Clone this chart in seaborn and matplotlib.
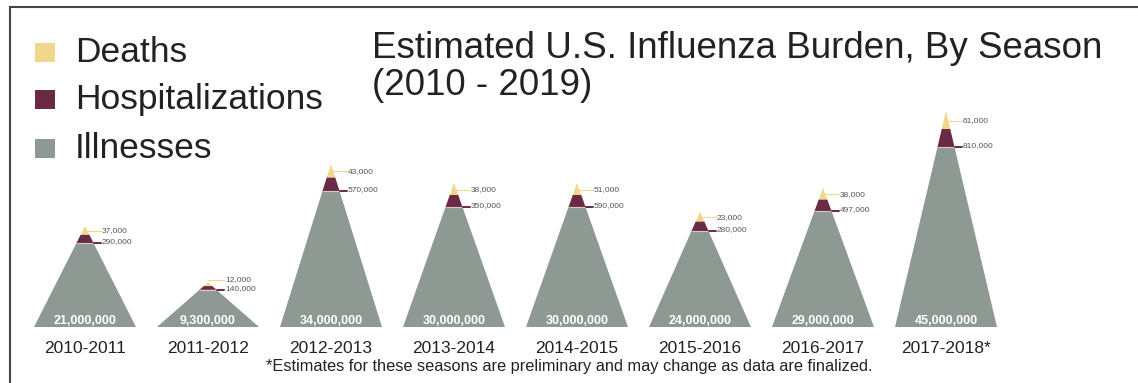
import numpy as np
import matplotlib
matplotlib.use('Agg')
import matplotlib.pyplot as plt
import seaborn as sns
from matplotlib.lines import Line2D
from matplotlib.patches import Rectangle

seasons = ['2010-2011', '2011-2012', '2012-2013', '2013-2014',
           '2014-2015', '2015-2016', '2016-2017', '2017-2018*']
illnesses = [21000000, 9300000, 34000000, 30000000, 30000000, 24000000, 29000000, 45000000]
hospitalizations = [290000, 140000, 570000, 350000, 590000, 280000, 497000, 810000]
deaths = [37000, 12000, 43000, 38000, 51000, 23000, 38000, 61000]

legend_labels = ['Deaths', 'Hospitalizations', 'Illnesses']
colors = {'Deaths': '#f0d78c', 'Hospitalizations': '#6b2a44', 'Illnesses': '#8e9994'}

sns.set_theme(style='white')
plt.rcParams['font.family'] = ['Liberation Sans', 'DejaVu Sans']

W, H = 1138, 383
fig = plt.figure(figsize=(W / 100, H / 100), dpi=100)
ax = fig.add_axes([0, 0, 1, 1])

# pixel layout -> data limits (x: season index, y: millions of illnesses)
step = 123
x0 = 85
base_px = 56
ppm = 4.0
ax.set_xlim(-x0 / step, (W - x0) / step)
ax.set_ylim(-base_px / ppm, (H - base_px) / ppm)
ax.axis('off')

hw = 51 / step
cap = 0.1  # cap height as a share of the illness pyramid
gap = 16 / step
min_sep = 9 / ppm

for i, season in enumerate(seasons):
    g = illnesses[i] / 1e6
    m = g * cap
    d = g * cap
    top = g + m + d

    def w(h):
        return hw * (1 - h / top)

    ax.fill([i - hw, i + hw, i + w(g), i - w(g)], [0, 0, g, g],
            color=colors['Illnesses'], lw=0)
    ax.fill([i - w(g), i + w(g), i + w(g + m), i - w(g + m)], [g, g, g + m, g + m],
            color=colors['Hospitalizations'], lw=0)
    ax.fill([i - w(g + m), i + w(g + m), i], [g + m, g + m, top],
            color=colors['Deaths'], lw=0)
    ax.plot([i - w(g), i + w(g)], [g, g], color='#d8c4c9', lw=0.8)

    # value callouts
    yh = g + 0.3
    yd = max(g + m + d * 0.45, yh + min_sep)
    ax.plot([i + w(min(yd, top)), i + gap], [yd, yd], color=colors['Deaths'], lw=0.8)
    ax.text(i + gap + 1 / step, yd, f'{deaths[i]:,}', fontsize=6,
            color='#555555', va='center', ha='left')
    ax.plot([i + w(g), i + gap], [g, g], color=colors['Hospitalizations'], lw=1.4)
    ax.text(i + gap + 1 / step, yh, f'{hospitalizations[i]:,}', fontsize=6,
            color='#555555', va='center', ha='left')

    ax.text(i, 1.6, f'{illnesses[i]:,}', fontsize=9, fontweight='bold',
            color='white', ha='center', va='center')
    ax.text(i, -5.3, season, fontsize=12.5, color='#222222', ha='center', va='center')

fig.text(569 / W, 1 - 366 / H,
         '*Estimates for these seasons are preliminary and may change as data are finalized.',
         fontsize=11.8, color='#222222', ha='center', va='center')

fig.text(372 / W, 1 - 58 / H, 'Estimated U.S. Influenza Burden, By Season',
         fontsize=26.5, color='#222222', va='baseline', ha='left')
fig.text(372 / W, 1 - 95 / H, '(2010 - 2019)',
         fontsize=26.5, color='#222222', va='baseline', ha='left')

# legend
for lab, base in zip(legend_labels, [62, 109, 158]):
    fig.patches.append(Rectangle((35 / W, 1 - base / H), 20 / W, 19 / H,
                                 transform=fig.transFigure, color=colors[lab], lw=0))
    fig.text(75 / W, 1 - base / H, lab, fontsize=25.5, color='#222222',
             va='baseline', ha='left')

# frame
fig.add_artist(Line2D([10 / W, 1], [1 - 7 / H, 1 - 7 / H], color='#444444', lw=1.5))
fig.add_artist(Line2D([10 / W, 10 / W], [0, 1 - 7 / H], color='#444444', lw=1.5))

fig.savefig('out.png', dpi=100)
